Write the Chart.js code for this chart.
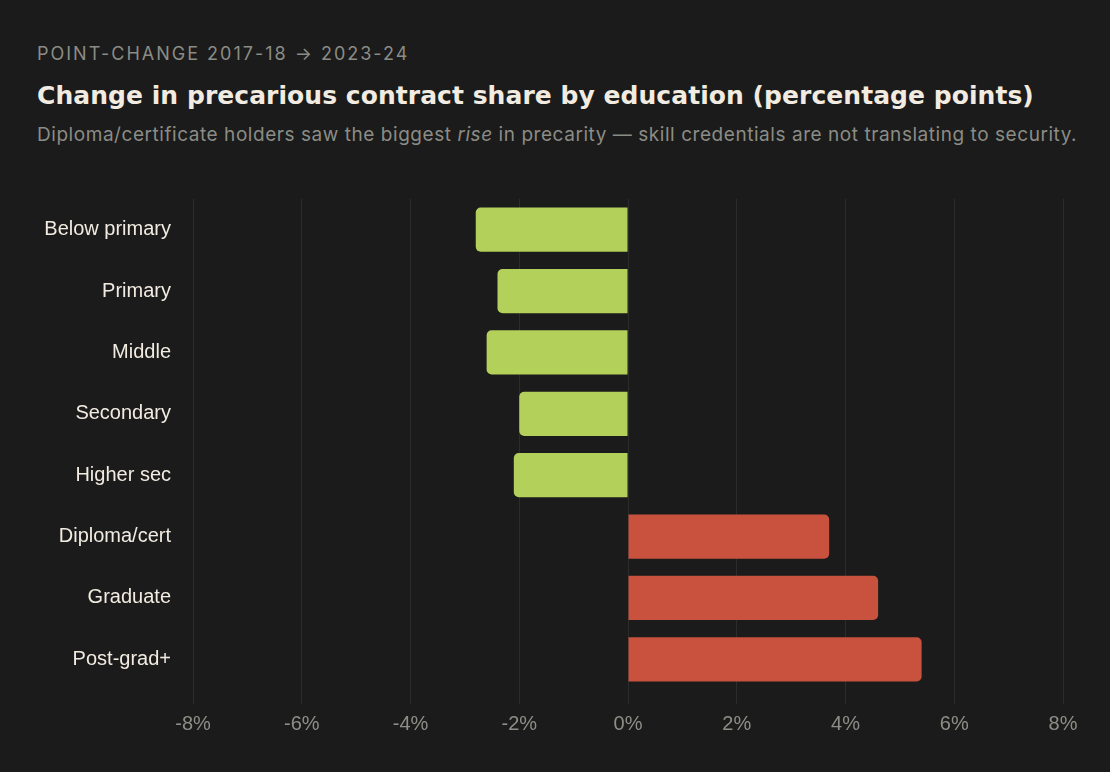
<!DOCTYPE html>
<html lang="en">
<head>
<meta charset="utf-8" />
<title>Precarious contract change by education</title>
<script src="https://cdn.jsdelivr.net/npm/chart.js@4.4.1/dist/chart.umd.min.js"></script>
<style>
	html, body { margin: 0; padding: 0; background: #1a1b1a; }
	body { width: 1110px; height: 772px; position: relative; overflow: hidden; font-family: "Inter", "Liberation Sans", sans-serif; }
	.eyebrow { position: absolute; left: 37px; top: 43px; font-size: 18px; letter-spacing: 2px; color: #8c8c86; }
	h1 { position: absolute; left: 37px; top: 81px; margin: 0; font-family: "DejaVu Sans", sans-serif; font-weight: bold; font-size: 25px; letter-spacing: 0.05px; color: #f1ebe1; }
	.sub { position: absolute; left: 37px; top: 123px; font-size: 19px; letter-spacing: 0.55px; color: #8c8c86; white-space: nowrap; }
	.chart-wrap { position: absolute; left: 0; top: 165px; width: 1110px; height: 579px; }
</style>
</head>
<body>
	<div class="eyebrow">POINT-CHANGE 2017-18 → 2023-24</div>
	<h1>Change in precarious contract share by education (percentage points)</h1>
	<div class="sub">Diploma/certificate holders saw the biggest <i>rise</i> in precarity — skill credentials are not translating to security.</div>
	<div class="chart-wrap"><canvas id="chart"></canvas></div>

<script>
	// education levels, top to bottom
	const levels = ['Below primary', 'Primary', 'Middle', 'Secondary', 'Higher sec', 'Diploma/cert', 'Graduate', 'Post-grad+'];
	// point change in precarious share, 2017-18 -> 2023-24
	const pointChange = [-2.8, -2.4, -2.6, -2.0, -2.1, 3.7, 4.6, 5.4];
	const axisMin = -8;
	const axisMax = 8;
	const axisStep = 2;

	const GREEN = '#b2d05a';
	const RED = '#c8523e';

	const ctx = document.getElementById('chart').getContext('2d');
	new Chart(ctx, {
		type: 'bar',
		data: {
			labels: levels,
			datasets: [{
				data: pointChange,
				backgroundColor: pointChange.map(v => v < 0 ? GREEN : RED),
				borderRadius: 5,
				borderSkipped: 'start',
				barPercentage: 0.9,
				categoryPercentage: 0.8
			}]
		},
		options: {
			indexAxis: 'y',
			responsive: true,
			maintainAspectRatio: false,
			animation: false,
			layout: { padding: { top: 7, right: 47, left: 0, bottom: 0 } },
			plugins: {
				legend: { display: false },
				tooltip: { enabled: false }
			},
			scales: {
				x: {
					min: axisMin,
					max: axisMax,
					ticks: {
						stepSize: axisStep,
						color: '#8e8e88',
						font: { family: 'Liberation Sans', size: 20 },
						padding: 8,
						callback: v => v + '%'
					},
					grid: { color: '#2b2c2b', lineWidth: 1, tickLength: 14, drawTicks: true },
					border: { display: false }
				},
				y: {
					afterFit: scale => { scale.width = 193; },
					ticks: {
						color: '#f1ebe1',
						font: { family: 'Liberation Sans', size: 20 },
						padding: 22
					},
					grid: { display: false, drawTicks: false },
					border: { display: false }
				}
			}
		}
	});
</script>
</body>
</html>
